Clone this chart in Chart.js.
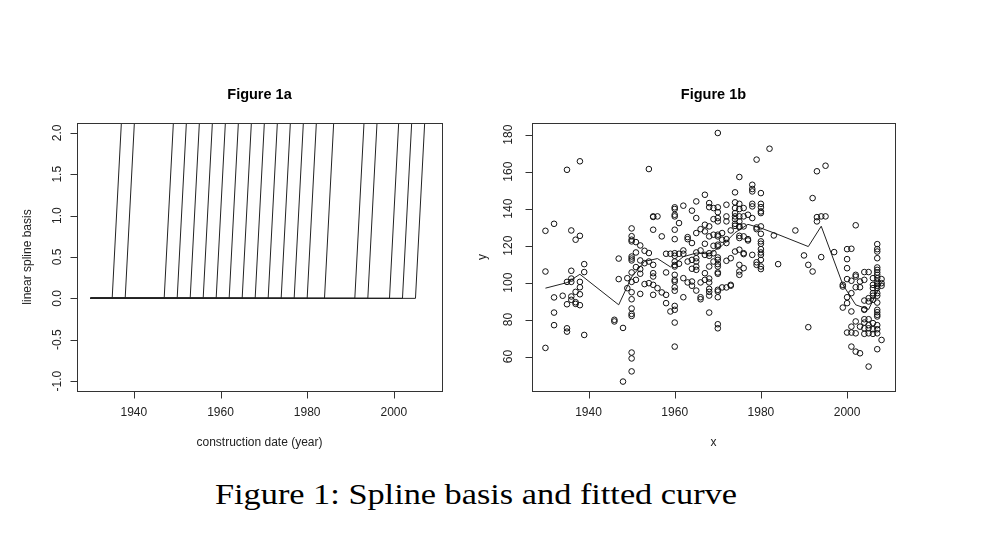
<!DOCTYPE html>
<html><head><meta charset="utf-8">
<script src="https://cdn.jsdelivr.net/npm/chart.js@4.4.1/dist/chart.umd.min.js"></script>
<style>
html,body{margin:0;padding:0;background:#fff;width:1007px;height:546px;overflow:hidden;}
canvas{position:absolute;top:0;}
#c1{left:0;}
#c2{left:470px;}
#cap{position:absolute;left:215px;top:479px;font-family:'Liberation Serif','Times New Roman',serif;font-size:30px;line-height:30px;white-space:nowrap;color:#000;transform-origin:0 0;}
</style></head>
<body>
<canvas id="c1" width="470" height="470"></canvas>
<canvas id="c2" width="537" height="470"></canvas>
<div id="cap"><span id="capt">Figure 1: Spline basis and fitted curve</span></div>
<script>
// ---- Figure 1a: linear spline basis ----
const knots = [1935,1938,1947,1950,1953,1956,1959,1962,1965,1968,1971,1974,1977,1980,1984,1991,1994,1999,2002,2005];
const basisStart = 1930;
const basisEndX = 2008;
const basisEndY = [73,70,61,58,55,52,49,46,43,40,37,34,31,28,24,17,14,9,6,3];
const xTicks = [1940,1960,1980,2000];
const yTicksA = [-1.0,-0.5,0.0,0.5,1.0,1.5,2.0];

// ---- Figure 1b: observations and fitted curve ----
const obsYears = [1930,1932,1934,1935,1936,1937,1938,1939,1946,1947,1948,1949,1950,1951,1952,1953,1954,1955,1956,1957,1958,1959,1960,1961,1962,1963,1964,1965,1966,1967,1968,1969,1970,1971,1972,1973,1974,1975,1976,1977,1978,1979,1980,1982,1983,1984,1988,1990,1991,1992,1993,1994,1995,1997,1999,2000,2001,2002,2003,2004,2005,2006,2007,2008];
const obsValues = [
 [128,106,64.7],
 [131.8,92,83.8,77],
 [92.9],
 [161,100.4,88.3,75.3,73.5],
 [128.2,106.4,102.2,100.4,92.5,90.7],
 [123.2,95,89.4,88.5],
 [165.6,125.3,100.4,97.5,93.7,87.8],
 [110,105.7,71.7],
 [79.9,79],
 [113,101.9],
 [75.5,46.5],
 [102.4,97],
 [129.3,125.1,123.2,122.3,114.1,113,112,105.5,100.4,94.8,91,86,83.1,82,62.2,59,52],
 [121.9,116.3,108.4,101.5],
 [120.1,112,107.3,104.8,93.9],
 [117.2,110.5,99.2],
 [161.4,116,111.4,99.7],
 [135.8,135.5,128.6,109.6,105.1,103.3,98.8,93.4],
 [135.8,97],
 [125,94.7],
 [115.6,105.5,93.4,88.9],
 [115.6,84.4],
 [140.7,139.8,136.7,135.8,128.6,123.5,115.9,114.5,111.4,109.5,108.7,104.2,101.5,100.6,97.5,95.6,87.4,85.3,78.4,65.4],
 [132.2,115.6,110.2],
 [141.6,117.4,115.6,102.4,92.1],
 [124.6,123.5,111.4,100.1],
 [138.9,121.4,112.3,107.5,100.6,98.3],
 [143.9,134.9,126.8,116.3,113.2,111.4,108.7,106.9,95.7],
 [128.9,117.4,100.1,92.1,91],
 [147.5,131.3,127.7,121,115,105.1,101.5],
 [143,140.8,130.4,125,115.9,114.5,108.7,102.2,100.1,96.6,95,93,83.8],
 [140.3,134.3,125.9,119.9,115.9,111.4],
 [180.9,140.7,138.1,134.9,133.1,125.9,125,120.5,119.6,113.6,112.3,110,108.7,105.5,104.8,96.1,95.2,92.1,77.5,75.3],
 [126.8,123.2,97.4],
 [142.1,135.8,133.1,123.5,121.4,111.8,97.4],
 [128.2,113.2,98.8,98.3],
 [148.8,143.4,140.3,137.6,135.8,134.3,131.8,130.7,116.8],
 [157.1,142.6,139.8,135.8,133.1,130.4,130,125.3,124.1,117.8,109.6,106,104.2],
 [140.3,135.8,130.4,125,115.9,115.4,107.8],
 [136.7,123.5,122.8],
 [152.9,150.6,149.3,142.6,141.2,134.9,115],
 [166.5,129.8,128.9,111,109.6],
 [148.4,142.6,140.8,138.5,137.6,130.4,126.4,122.3,121,118.1,116.3,115,112.3,108.7,107.3],
 [172.4],
 [125.5],
 [110],
 [128.2],
 [114.7],
 [109.6,75.9],
 [145.7,106],
 [160.2,135.4,133.1],
 [135.8,113.8],
 [163.2,135.8],
 [116.5],
 [98.8,97.9,86.5],
 [118.1,112.7,107.8,101.9,92.1,88.9,73],
 [118.3,101,94.3,84.4,76.2,73,65.4],
 [131,104.2,103.3,97.5,79,72.6,62.7],
 [100.6,97.5,76.2,61.8],
 [105.7,101.5,90.3,85.6,85.3,80.2,78.4,75.3,72.3],
 [105.7,91.6,89.8,80.2,77,75.3,72.6,54.6],
 [102.4,98.8,97,94.3,92.9,90.7,78.1,74.8,72.3],
 [120.8,118.1,116.8,113.2,108.2,106.9,105.5,104.2,102.4,100.6,99.3,98.3,97,94.3,92.9,89.2,85.3,84,82.6,81.7,77,74.8,72.6,64],
 [101.9,99.7,98.3,69]
];
const fitX = [1930,1935,1938,1947,1950,1953,1956,1959,1962,1965,1968,1971,1974,1977,1980,1984,1991,1994,1999,2002,2005,2008];
const fitY = [97,100,104.5,88,103,111.5,113,108.5,114,116,115.5,120,127,131.5,129.5,126,119.5,130.5,99,88,85.5,100];
const yTicksB = [60,80,100,120,140,160,180];

const TXT = '#222';
const FONT = '"Liberation Sans", Arial, sans-serif';

const rAxes = {
  id: 'rAxes',
  afterDraw(chart, args, o) {
    const ctx = chart.ctx, a = chart.chartArea, xs = chart.scales.x, ys = chart.scales.y;
    ctx.save();
    ctx.strokeStyle = '#333';
    ctx.lineWidth = 1;
    const L = Math.round(a.left) + 0.5, T = Math.round(a.top) + 0.5;
    const R = Math.round(a.right) + 0.5, B = Math.round(a.bottom) + 0.5;
    ctx.strokeRect(L, T, R - L, B - T);
    ctx.fillStyle = TXT;
    ctx.font = '12px ' + FONT;
    ctx.textAlign = 'center';
    ctx.textBaseline = 'middle';
    ctx.beginPath();
    for (const v of o.xTicks) {
      const px = Math.round(xs.getPixelForValue(v)) + 0.5;
      ctx.moveTo(px, B); ctx.lineTo(px, B + 7);
    }
    for (const v of o.yTicks) {
      const py = Math.round(ys.getPixelForValue(v)) + 0.5;
      ctx.moveTo(L, py); ctx.lineTo(L - 7, py);
    }
    ctx.stroke();
    for (const v of o.xTicks) {
      ctx.fillText(String(v), xs.getPixelForValue(v), a.bottom + 22);
    }
    for (const v of o.yTicks) {
      const py = ys.getPixelForValue(v);
      ctx.save();
      ctx.translate(a.left - o.yLabOff, py);
      ctx.rotate(-Math.PI / 2);
      ctx.fillText(o.yFmt(v), 0, 0);
      ctx.restore();
    }
    const cx = (a.left + a.right) / 2;
    ctx.fillText(o.xlabel, cx, 443);
    ctx.save();
    ctx.translate(o.ylabX, (a.top + a.bottom) / 2);
    ctx.rotate(-Math.PI / 2);
    ctx.fillText(o.ylabel, 0, 0);
    ctx.restore();
    ctx.fillStyle = '#000';
    ctx.font = 'bold 14.5px ' + FONT;
    ctx.fillText(o.title, cx, 95);
    ctx.restore();
  }
};

const baseOpts = (ymin, ymax, pad, plug) => ({
  responsive: false,
  animation: false,
  events: [],
  layout: { padding: pad },
  plugins: { legend: { display: false }, tooltip: { enabled: false }, rAxes: plug },
  scales: {
    x: { type: 'linear', min: 1926.88, max: 2011.12, display: false },
    y: { type: 'linear', min: ymin, max: ymax, display: false }
  }
});

// Chart A
const dsA = knots.map((k, i) => ({
  type: 'line',
  data: [{ x: basisStart, y: 0 }, { x: k, y: 0 }, { x: basisEndX, y: basisEndY[i] }],
  borderColor: '#222',
  borderWidth: 1,
  pointRadius: 0,
  fill: false,
  tension: 0
}));
new Chart(document.getElementById('c1'), {
  type: 'line',
  data: { datasets: dsA },
  options: baseOpts(-1.12, 2.12, { left: 77, top: 123, right: 28, bottom: 79 }, {
    xTicks: xTicks, yTicks: yTicksA, yLabOff: 19, yFmt: v => v.toFixed(1),
    xlabel: 'construction date (year)', ylabel: 'linear spline basis', ylabX: 28, title: 'Figure 1a'
  }),
  plugins: [rAxes]
});

// Chart B
const pts = [];
obsYears.forEach((yr, i) => obsValues[i].forEach(v => pts.push({ x: yr, y: v })));
new Chart(document.getElementById('c2'), {
  type: 'scatter',
  data: {
    datasets: [
      {
        type: 'scatter',
        data: pts,
        pointStyle: 'circle',
        pointRadius: 2.8,
        borderColor: '#111',
        backgroundColor: 'rgba(0,0,0,0)',
        borderWidth: 1
      },
      {
        type: 'line',
        data: fitX.map((x, i) => ({ x: x, y: fitY[i] })),
        borderColor: '#222',
        borderWidth: 1,
        pointRadius: 0,
        fill: false,
        tension: 0
      }
    ]
  },
  options: baseOpts(41.4, 186.3, { left: 62, top: 123, right: 112, bottom: 79 }, {
    xTicks: xTicks, yTicks: yTicksB, yLabOff: 23, yFmt: v => String(v),
    xlabel: 'x', ylabel: 'y', ylabX: 13, title: 'Figure 1b'
  }),
  plugins: [rAxes]
});

// caption width fit
const capt = document.getElementById('capt');
const w = capt.getBoundingClientRect().width;
document.getElementById('cap').style.transform = 'scaleX(' + (522 / w) + ')';
</script>
</body></html>
